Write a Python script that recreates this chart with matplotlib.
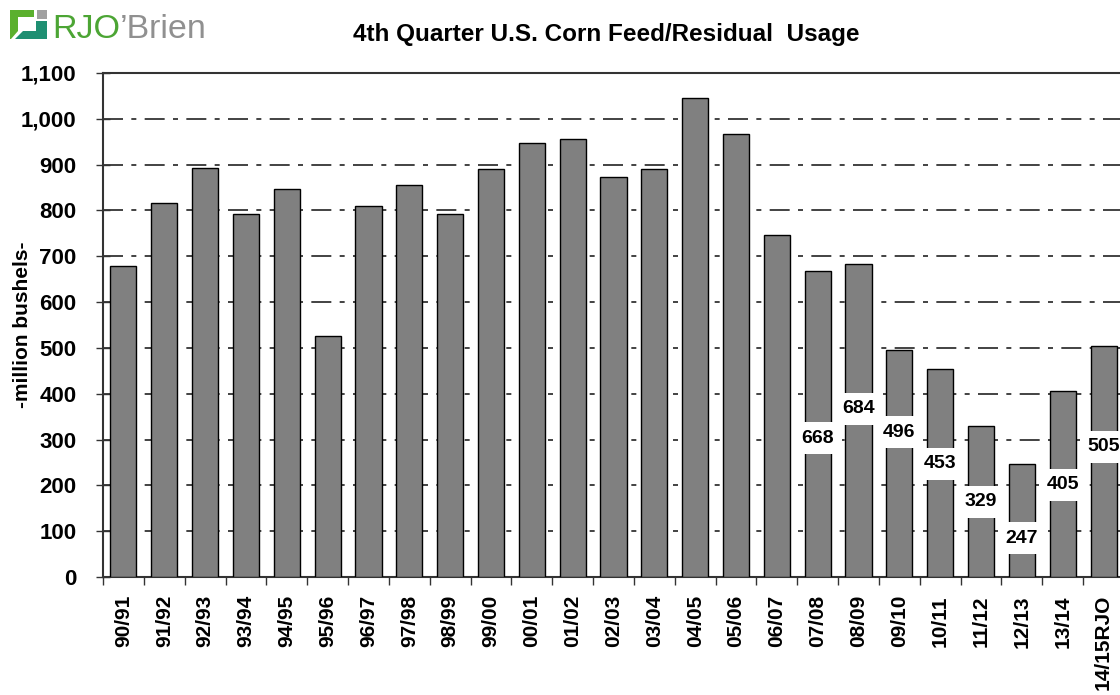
import matplotlib
matplotlib.use("Agg")
import matplotlib.pyplot as plt
from matplotlib.patches import Polygon

plt.rcParams['font.family'] = ['Liberation Sans', 'DejaVu Sans']

# data
seasons = ['90/91', '91/92', '92/93', '93/94', '94/95', '95/96', '96/97', '97/98',
           '98/99', '99/00', '00/01', '01/02', '02/03', '03/04', '04/05', '05/06',
           '06/07', '07/08', '08/09', '09/10', '10/11', '11/12', '12/13', '13/14',
           '14/15RJO']
usage = [679, 816, 893, 792, 847, 526, 810, 856, 792, 890, 947, 956, 873, 890,
         1045, 967, 746, 668, 684, 496, 453, 329, 247, 405, 505]
# which bars get a value label, and at what height the label box sits
labeled = ['07/08', '08/09', '09/10', '10/11', '11/12', '12/13', '13/14', '14/15RJO']
label_y = [303, 367, 316, 247, 164, 85, 201, 284]
yticks = list(range(0, 1101, 100))

fig = plt.figure(figsize=(11.2, 6.95), dpi=100)
W, H = 1120, 695
ax = fig.add_axes([103 / W, 1 - 577 / H, 1021 / W, 504 / H])

x = list(range(len(seasons)))
ax.bar(x, usage, width=0.64, color='#808080', edgecolor='black', linewidth=1.0, zorder=3)

ax.set_xlim(-0.5, len(seasons) - 0.5)
ax.set_ylim(0, 1100)
ax.set_yticks(yticks)
ax.set_yticklabels(['{:,}'.format(v) for v in yticks], fontsize=16, fontweight='bold')

# ticks at category boundaries, labels centred under bars
ax.set_xticks([i - 0.5 for i in x])
ax.set_xticklabels([])
ax.set_xticks(x, minor=True)
ax.set_xticklabels(seasons, minor=True, rotation=90, fontsize=15, fontweight='bold')
ax.tick_params(axis='x', which='major', direction='out', length=6, width=1, color='#333333')
ax.tick_params(axis='x', which='minor', length=0, pad=13)
ax.tick_params(axis='y', direction='inout', length=10, width=1, color='#333333', pad=14)

for v in yticks[1:-1]:
    ax.axhline(v, color='#222222', linewidth=1.2, dashes=(12, 5, 3, 5), zorder=1)

for s in ['left', 'bottom', 'top']:
    ax.spines[s].set_color('#333333')
    ax.spines[s].set_linewidth(1.5)
ax.spines['right'].set_visible(False)

for name, ly in zip(labeled, label_y):
    i = seasons.index(name)
    ax.text(i, ly, str(usage[i]), ha='center', va='center', fontsize=14,
            fontweight='bold', zorder=5,
            bbox=dict(boxstyle='square,pad=0.4', facecolor='white', edgecolor='none'))

ax.set_ylabel('-million bushels-', fontsize=15, fontweight='bold')
ax.yaxis.set_label_coords(-0.07, 0.5)

fig.text(606 / W, 1 - 34 / H, '4th Quarter U.S. Corn Feed/Residual  Usage',
         ha='center', va='center', fontsize=17.5, fontweight='bold')

# logo
def px(pts):
    return [(a / W, 1 - b / H) for a, b in pts]

fig.patches.append(Polygon(px([(10, 10), (34, 10), (34, 17), (18, 17), (18, 31), (11, 39), (10, 39)]),
                           closed=True, facecolor='#5bb02e', edgecolor='none', transform=fig.transFigure))
fig.patches.append(Polygon(px([(15, 39), (23, 31), (36, 31), (36, 21), (47, 21), (47, 39)]),
                           closed=True, facecolor='#1e8f72', edgecolor='none', transform=fig.transFigure))
fig.patches.append(Polygon(px([(37, 10), (47, 10), (47, 19), (37, 19)]),
                           closed=True, facecolor='#a0a0a0', edgecolor='none', transform=fig.transFigure))
t1 = fig.text(52 / W, 1 - 38 / H, 'RJO', color='#4ca534', fontsize=24.5, ha='left', va='baseline')
fig.canvas.draw()
bb = t1.get_window_extent()
fig.text(bb.x1 / W, 1 - 38 / H, "\u2019Brien", color='#909090', fontsize=24.5, ha='left', va='baseline')

fig.savefig('out.png', dpi=100)
